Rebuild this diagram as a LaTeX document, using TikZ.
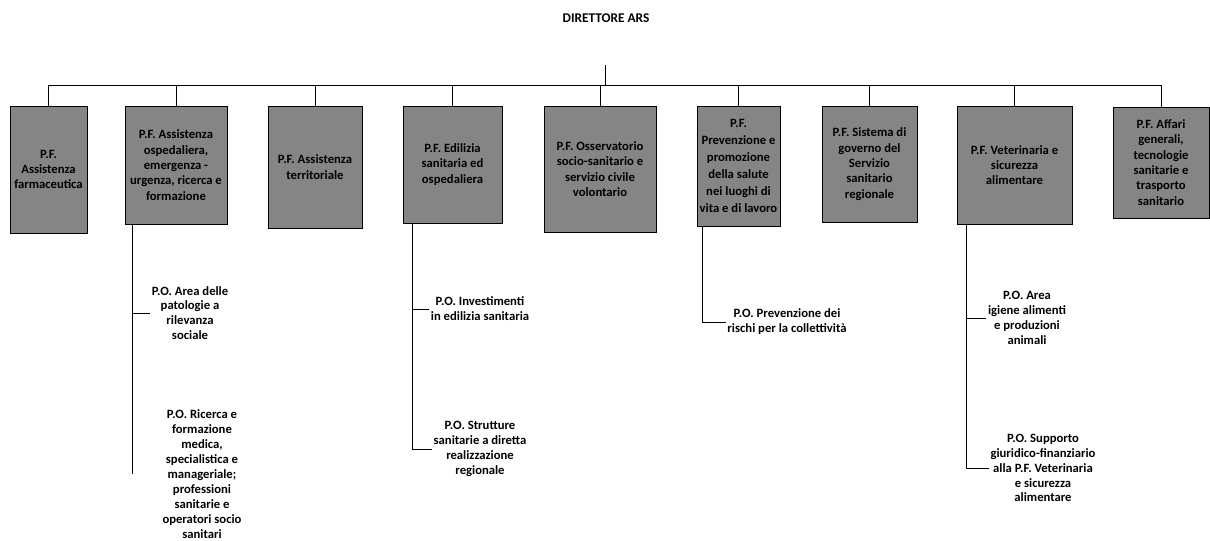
\documentclass[tikz,border=0pt]{standalone}
\usepackage{fontspec}
\setmainfont{Carlito}
\usepackage{tikz}
\tikzset{
    PF/.style ={rectangle, draw, fill=black!48, align=center, inner sep=1pt,
        font=\fontsize{9.5}{11.5}\selectfont\bfseries},
    PO/.style ={rectangle, align=center, inner sep=1pt,
        font=\fontsize{9.5}{11.2}\selectfont\bfseries},
    TT/.style ={font=\fontsize{10}{12}\selectfont\bfseries}
}

\begin{document}
\begin{tikzpicture}[x=0.75pt, y=-0.75pt, line width=0.6pt,
        vh/.style={to path={|- (\tikztotarget)}}]
    \useasboundingbox (0,0) rectangle (1210,540);
    \node[TT] (dir) at (606,18) {DIRETTORE ARS};
    \coordinate (top) at (605,65);
    \coordinate (bus) at (605,85);
    % P.F. boxes
    \node[PF, minimum width=57.75pt, minimum height=95.25pt] (pf1) at (48.5,169.5) {P.F.\\Assistenza\\farmaceutica};
    \node[PF, minimum width=76.5pt, minimum height=88.5pt] (pf2) at (176,165) {P.F. Assistenza\\ospedaliera,\\emergenza -\\urgenza, ricerca e\\formazione};
    \node[PF, minimum width=70.5pt, minimum height=91.5pt] (pf3) at (315,167) {P.F. Assistenza\\territoriale};
    \node[PF, minimum width=74.25pt, minimum height=87.75pt] (pf4) at (452.5,164.5) {P.F. Edilizia\\sanitaria ed\\ospedaliera};
    \node[PF, minimum width=84pt, minimum height=94.5pt] (pf5) at (600,169) {P.F. Osservatorio\\socio-sanitario e\\servizio civile\\volontario};
    \node[PF, minimum width=62.25pt, minimum height=90pt, font=\fontsize{9.5}{12.8}\selectfont\bfseries] (pf6) at (738.5,166) {P.F.\\Prevenzione e\\promozione\\della salute\\nei luoghi di\\vita e di lavoro};
    \node[PF, minimum width=71.25pt, minimum height=87pt] (pf7) at (869.5,164) {P.F. Sistema di\\governo del\\Servizio\\sanitario\\regionale};
    \node[PF, minimum width=86.25pt, minimum height=88.5pt] (pf8) at (1014.5,165) {P.F. Veterinaria e\\sicurezza\\alimentare};
    \node[PF, minimum width=72pt, minimum height=83.25pt] (pf9) at (1161,162.5) {P.F. Affari\\generali,\\tecnologie\\sanitarie e\\trasporto\\sanitario};
    % bus
    \draw (top) -- (bus);
    \draw (pf1.north |- bus) -- (pf9.north |- bus);
    \foreach \i in {1,...,9}
        \draw (pf\i.north |- bus) -- (pf\i.north);
    % P.O. nodes
    \node[PO] (po21) at (190,313) {P.O. Area delle\\patologie a\\rilevanza\\sociale};
    \node[PO] (po22) at (202,474) {P.O. Ricerca e\\formazione\\medica,\\specialistica e\\manageriale;\\professioni\\sanitarie e\\operatori socio\\sanitari};
    \node[PO] (po41) at (480,309) {P.O. Investimenti\\in edilizia sanitaria};
    \node[PO] (po42) at (480,449) {P.O. Strutture\\sanitarie a diretta\\realizzazione\\regionale};
    \node[PO] (po61) at (787,322) {P.O. Prevenzione dei\\rischi per la collettività};
    \node[PO] (po81) at (1027,318) {P.O. Area\\igiene alimenti\\e produzioni\\animali};
    \node[PO] (po82) at (1043,468) {P.O. Supporto\\giuridico-finanziario\\alla P.F. Veterinaria\\e sicurezza\\alimentare};
    % branches
    \coordinate (s2) at ([xshift=6pt]pf2.south west);
    \coordinate (s4) at ([xshift=7.5pt]pf4.south west);
    \coordinate (s6) at ([xshift=4.5pt]pf6.south west);
    \coordinate (s8) at ([xshift=7.5pt]pf8.south west);
    \draw (s2) to[vh] (po21) (s2) -- (s2 |- po22);
    \draw (s4) to[vh] (po41) (s4) to[vh] (po42);
    \draw (s6) to[vh] (po61);
    \draw (s8) to[vh] (po81) (s8) to[vh] (po82);
\end{tikzpicture}
\end{document}
